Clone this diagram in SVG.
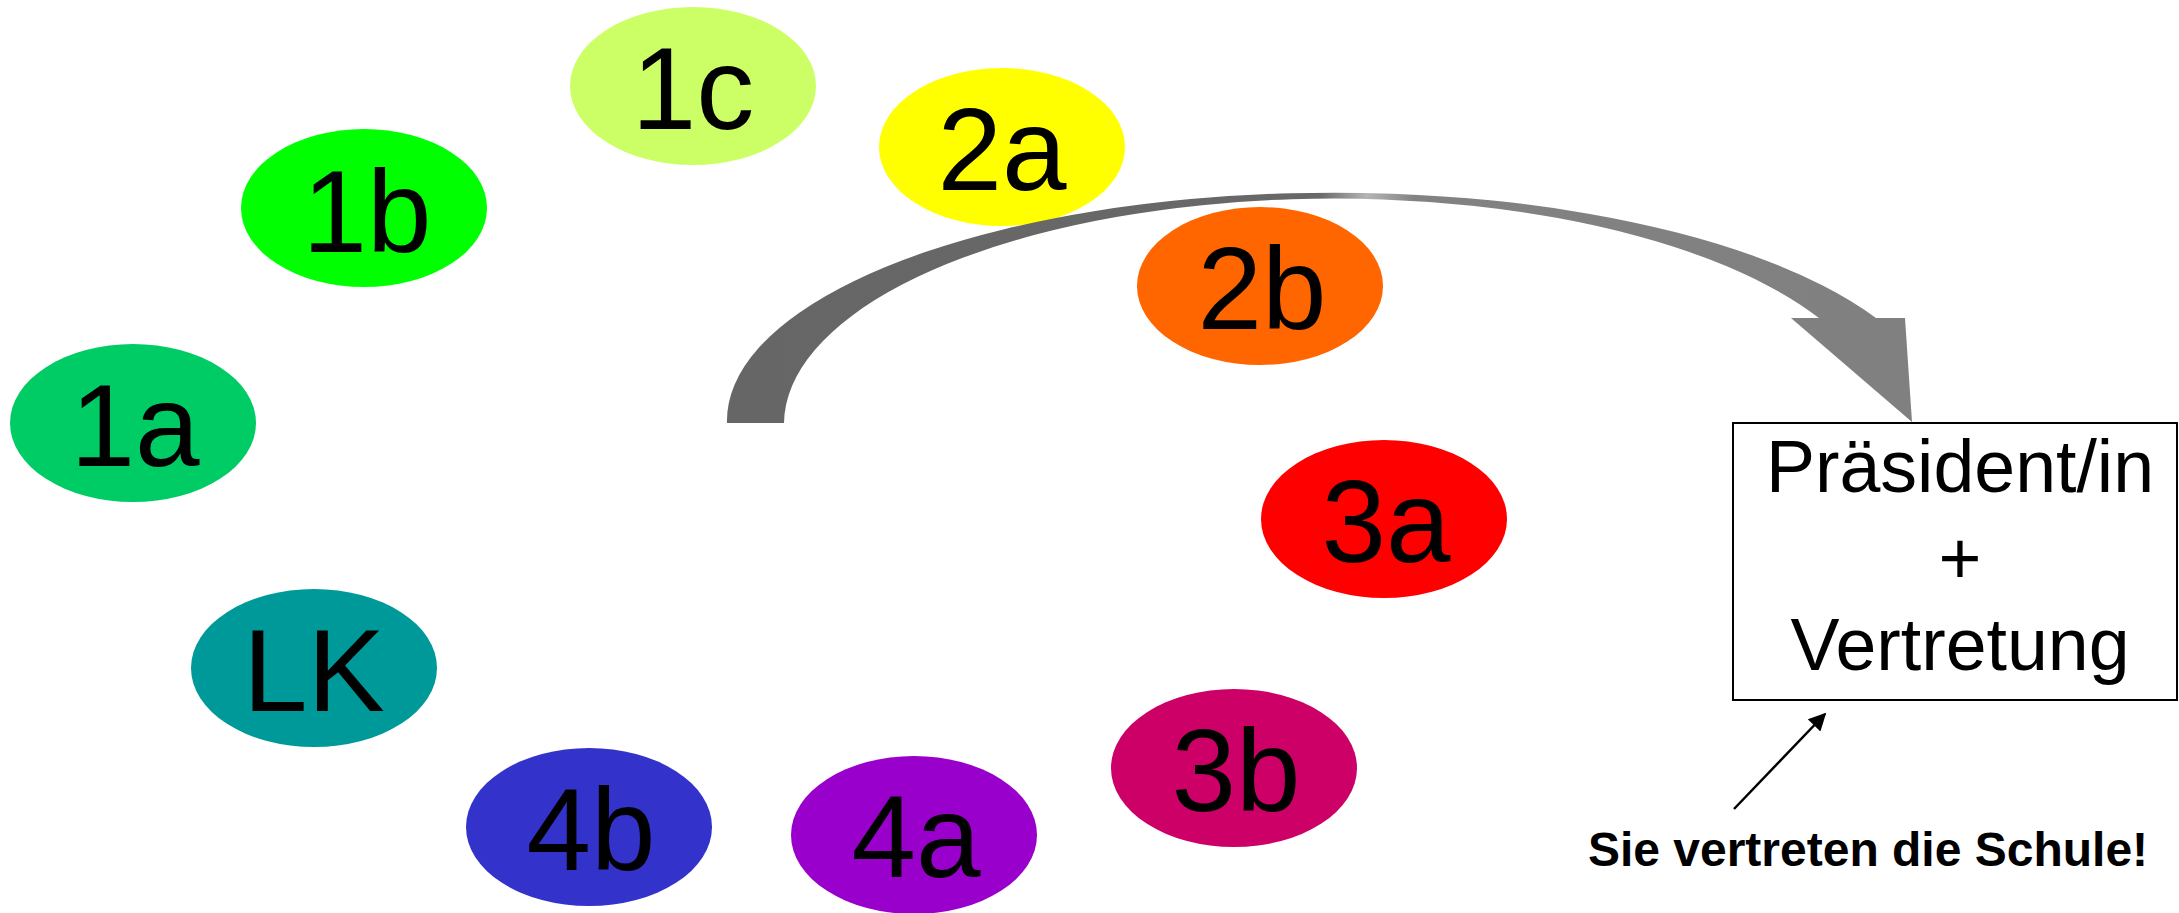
<svg xmlns="http://www.w3.org/2000/svg" width="2179" height="913" viewBox="0 0 2179 913">
<style>
.lbl{font-family:"Liberation Sans",Arial,sans-serif;font-size:116px;fill:#000;text-anchor:middle}
.box{font-family:"Liberation Sans",Arial,sans-serif;font-size:73.5px;fill:#000;text-anchor:middle}
.note{font-family:"Liberation Sans",Arial,sans-serif;font-size:48px;font-weight:bold;fill:#000;text-anchor:middle}
</style>
<defs>
<linearGradient id="arcGrad" gradientUnits="userSpaceOnUse" x1="727" y1="0" x2="1912" y2="0">
<stop offset="0" stop-color="#666666"/>
<stop offset="0.5" stop-color="#686868"/>
<stop offset="0.54" stop-color="#b5b5b5"/>
<stop offset="0.58" stop-color="#828282"/>
<stop offset="1" stop-color="#808080"/>
</linearGradient>
<marker id="ah" viewBox="0 0 10 10" refX="9" refY="5" markerWidth="8" markerHeight="7" markerUnits="strokeWidth" orient="auto">
<path d="M0,0 L10,5 L0,10 Z" fill="#000"/>
</marker>
</defs>
<rect width="2179" height="913" fill="#fff"/>
<g id="node-1c"><ellipse cx="693" cy="86" rx="123" ry="79" fill="#CCFF66"/><text class="lbl" x="693" y="129">1c</text></g>
<g id="node-2a"><ellipse cx="1002" cy="147" rx="123" ry="79" fill="#FFFF00"/><text class="lbl" x="1002" y="190">2a</text></g>
<g id="node-1b"><ellipse cx="364" cy="208" rx="123" ry="79" fill="#00FF00"/><text class="lbl" x="367" y="252">1b</text></g>
<g id="node-2b"><ellipse cx="1260" cy="286" rx="123" ry="79" fill="#FF6600"/><text class="lbl" x="1262" y="329">2b</text></g>
<g id="node-1a"><ellipse cx="133" cy="423" rx="123" ry="79" fill="#00CC66"/><text class="lbl" x="135" y="466">1a</text></g>
<g id="node-3a"><ellipse cx="1384" cy="519" rx="123" ry="79" fill="#FF0000"/><text class="lbl" x="1386" y="562">3a</text></g>
<g id="node-LK"><ellipse cx="314" cy="668" rx="123" ry="79" fill="#009999"/><text class="lbl" x="314" y="711">LK</text></g>
<g id="node-3b"><ellipse cx="1234" cy="768" rx="123" ry="79" fill="#CC0066"/><text class="lbl" x="1236" y="811">3b</text></g>
<g id="node-4b"><ellipse cx="589" cy="827" rx="123" ry="79" fill="#3333CC"/><text class="lbl" x="591" y="870">4b</text></g>
<g id="node-4a"><ellipse cx="914" cy="835" rx="123" ry="79" fill="#9900CC"/><text class="lbl" x="916" y="877">4a</text></g>
<g id="node-praesident">
<rect x="1733" y="423" width="444" height="277" fill="#fff" stroke="#000" stroke-width="2"/>
<text class="box" x="1960" y="492">Präsident/in</text>
<text class="box" x="1960" y="584">+</text>
<text class="box" x="1960" y="670">Vertretung</text>
</g>
<g id="node-note"><text class="note" x="1868" y="866">Sie vertreten die Schule!</text></g>
<g id="connectors">
<path d="M727 423 A607 228 0 0 1 1876 318 L1905 318 L1912 422 L1791 318 L1819 318 A550 226 0 0 0 784 423 Z" fill="url(#arcGrad)"/>
<line x1="1734" y1="809" x2="1825" y2="714" stroke="#000" stroke-width="2.5" marker-end="url(#ah)"/>
</g>
</svg>
